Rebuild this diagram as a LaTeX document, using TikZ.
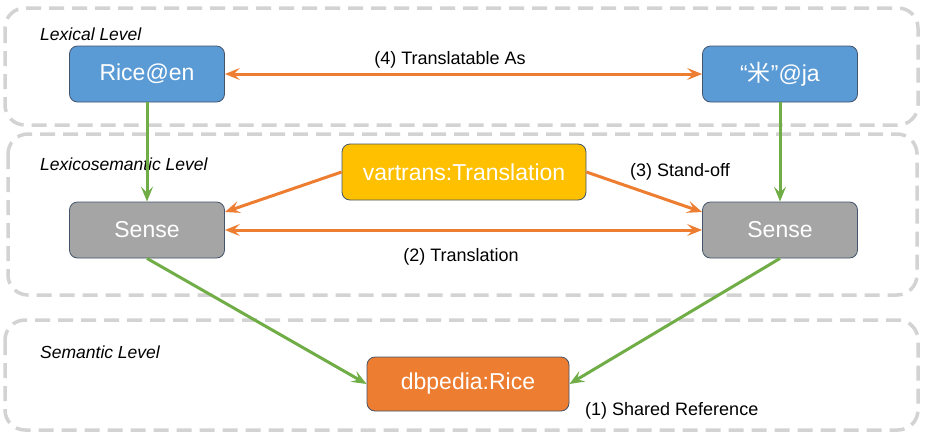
\documentclass[tikz,border=0pt]{standalone}
\usepackage{fontspec}
\setmainfont{Liberation Sans}
\newfontfamily\cjk{Noto Sans CJK JP}
\usepackage{tikz}
\usetikzlibrary{arrows.meta, calc, positioning}
\definecolor{LevelGray}{HTML}{D3D3D3}
\definecolor{NodeEdge}{HTML}{44546A}
\definecolor{LexBlue}{HTML}{5B9BD5}
\definecolor{SenseGray}{HTML}{A5A5A5}
\definecolor{TransYellow}{HTML}{FFC000}
\definecolor{RefOrange}{HTML}{ED7D31}
\definecolor{LinkGreen}{HTML}{70AD47}
\tikzset{
  level/.style={draw=LevelGray, line width=3.5pt, dash pattern=on 15pt off 8pt, rounded corners=20pt},
  levelname/.style={anchor=west, inner sep=0pt, font=\fontsize{17.5}{20}\selectfont\itshape},
  term/.style={draw=NodeEdge, line width=0.8pt, rounded corners=8pt, text=white, inner sep=0pt,
    minimum width=155pt, minimum height=56pt, font=\fontsize{23}{26}\selectfont},
  linkname/.style={inner sep=0pt, font=\fontsize{18}{20}\selectfont},
  orangelink/.style={draw=RefOrange, line width=3pt},
  greenlink/.style={draw=LinkGreen, line width=3pt, -{Stealth[length=15pt, width=12pt, inset=6pt]}}
}
\begin{document}
\begin{tikzpicture}[x=1pt, y=-1pt]
  \useasboundingbox (0,0) rectangle (932,437);

  % levels
  \draw[level] (5,8) rectangle (918,125);
  \draw[level] (8,134) rectangle (917,295);
  \draw[level] (5,320) rectangle (918,430);
  \node[levelname] (lexname) at (40,34) {Lexical Level};
  \node[levelname] (lexsemname) at (40,164) {Lexicosemantic Level};
  \node[levelname] (semname) at (40,352) {Semantic Level};

  % terms
  \node[term, fill=LexBlue] (riceen) at (147,74) {Rice@en};
  \node[term, fill=LexBlue] (riceja) at (780,74) {“{\cjk 米}”@ja};
  \node[term, fill=SenseGray] (senseL) at (147,230) {Sense};
  \node[term, fill=SenseGray] (senseR) at (780,230) {Sense};
  \node[term, fill=TransYellow, minimum width=244pt] (trans) at (464,172) {vartrans:Translation};
  \node[term, fill=RefOrange, minimum width=202pt, minimum height=54pt] (dbp) at (468,384) {dbpedia:Rice};

  % links
  \draw[orangelink, {Stealth[length=15pt, width=12pt, inset=6pt]}-{Stealth[length=15pt, width=12pt, inset=6pt]}] (riceen) -- (riceja);
  \draw[orangelink, {Stealth[length=15pt, width=12pt, inset=6pt]}-{Stealth[length=15pt, width=12pt, inset=6pt]}] (senseL) -- (senseR);
  \draw[orangelink, -{Stealth[length=15pt, width=12pt, inset=6pt]}] (trans.west) -- (senseL.13);
  \draw[orangelink, -{Stealth[length=15pt, width=12pt, inset=6pt]}] (trans.east) -- (senseR.167);
  \draw[greenlink] (riceen) -- (senseL);
  \draw[greenlink] (riceja) -- (senseR);
  \draw[greenlink] (senseL.south) -- (dbp.west);
  \draw[greenlink] (senseR.south) -- (dbp.east);

  \node[linkname] (l4) at (450,60) {(4) Translatable As};
  \node[linkname, anchor=west] (l3) at (630,172) {(3) Stand-off};
  \node[linkname] (l2) at (461,257) {(2) Translation};
  \node[linkname, anchor=west] (l1) at (585,411) {(1) Shared Reference};
\end{tikzpicture}
\end{document}
